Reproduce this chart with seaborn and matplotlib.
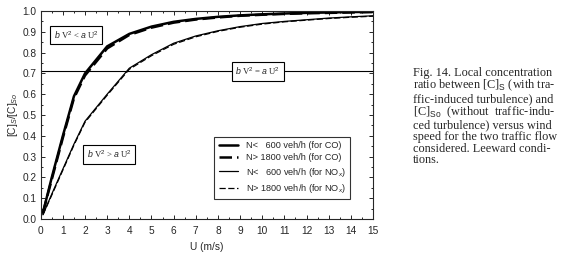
import matplotlib
matplotlib.use("Agg")
import matplotlib.pyplot as plt
from matplotlib.ticker import MultipleLocator
import seaborn as sns

# wind speed (m/s) and concentration ratio
u = [0.1, 0.5, 1, 1.5, 2, 3, 4, 5, 6, 7, 8, 9, 10, 11, 12, 13, 14, 15]
co_low = [0.03, 0.20, 0.40, 0.59, 0.70, 0.83, 0.89, 0.925, 0.948, 0.962, 0.972, 0.979, 0.984, 0.988, 0.991, 0.993, 0.995, 0.996]
co_high = [0.03, 0.19, 0.39, 0.58, 0.69, 0.82, 0.885, 0.92, 0.944, 0.959, 0.969, 0.977, 0.982, 0.986, 0.989, 0.991, 0.993, 0.995]
nox_low = [0.02, 0.12, 0.24, 0.36, 0.47, 0.60, 0.725, 0.79, 0.845, 0.88, 0.905, 0.925, 0.94, 0.95, 0.958, 0.966, 0.972, 0.977]
nox_high = [0.02, 0.115, 0.235, 0.355, 0.465, 0.595, 0.72, 0.785, 0.84, 0.876, 0.902, 0.922, 0.937, 0.948, 0.956, 0.964, 0.97, 0.975]
threshold = 0.71

legend_labels = [
    "N<   600 veh/h (for CO)",
    "N> 1800 veh/h (for CO)",
    "N<   600 veh/h (for NO$_x$)",
    "N> 1800 veh/h (for NO$_x$)",
]

caption = [
    "Fig. 14. Local concentration",
    "ratio between [C]$_\\mathrm{S}$ (with tra-",
    "ffic-induced turbulence) and",
    "[C]$_\\mathrm{So}$  (without  traffic-indu-",
    "ced turbulence) versus wind",
    "speed for the two traffic flow",
    "considered. Leeward condi-",
    "tions.",
]

sns.set_theme(style="ticks")
plt.rcParams['font.family'] = ['Liberation Sans', 'DejaVu Sans']
plt.rcParams['mathtext.fontset'] = 'custom'
plt.rcParams['mathtext.rm'] = 'Liberation Sans'
plt.rcParams['mathtext.it'] = 'Liberation Sans:italic'

fig = plt.figure(figsize=(5.7, 2.56), dpi=100)
ax = fig.add_axes([0.0714, 0.1445, 0.583, 0.8125])

series = [
    (co_low, "-", 1.8),
    (co_high, (0, (5, 2)), 1.8),
    (nox_low, "-", 0.9),
    (nox_high, (0, (5, 2)), 0.9),
]
for (vals, ls, lw), lab in zip(series, legend_labels):
    sns.lineplot(x=u, y=vals, ax=ax, color="black", linewidth=lw, linestyle=ls, label=lab)

ax.axhline(threshold, color="black", linewidth=0.8)

ax.set_xlim(0, 15)
ax.set_ylim(0, 1.0)
ax.xaxis.set_major_locator(MultipleLocator(1))
ax.xaxis.set_minor_locator(MultipleLocator(0.5))
ax.yaxis.set_major_locator(MultipleLocator(0.1))
ax.yaxis.set_minor_locator(MultipleLocator(0.05))
ax.tick_params(which="both", direction="in", top=True, right=True, labelsize=7.3, width=0.7)
ax.tick_params(axis="x", pad=5)
ax.tick_params(axis="y", pad=3)
ax.tick_params(which="major", length=3)
ax.tick_params(which="minor", length=1.5)
for s in ax.spines.values():
    s.set_linewidth(0.8)
ax.set_yticks([i / 10 for i in range(11)])
ax.set_yticklabels(["%.1f" % (i / 10) for i in range(11)])

ax.set_xlabel("U (m/s)", fontsize=7.3, labelpad=4)
ax.set_ylabel("[C]$_S$/[C]$_{So}$", fontsize=7.3, labelpad=2)

box = dict(boxstyle="square,pad=0.4", facecolor="white", edgecolor="black", linewidth=0.8)
serif = ['Liberation Serif', 'DejaVu Serif']
ax.text(1.6, 0.885, "$b$ V$^2$ < $a$ U$^2$", fontsize=6.3, ha="center", va="center", bbox=box, family=serif)
ax.text(9.8, 0.71, "$b$ V$^2$ = $a$ U$^2$", fontsize=6.3, ha="center", va="center", bbox=box, family=serif)
ax.text(3.1, 0.31, "$b$ V$^2$ > $a$ U$^2$", fontsize=6.3, ha="center", va="center", bbox=box, family=serif)

leg = ax.legend(loc="lower right", bbox_to_anchor=(0.945, 0.072), fontsize=6.6, frameon=True,
                fancybox=False, edgecolor="black", handlelength=2.1, labelspacing=0.35,
                borderpad=0.5)
leg.get_frame().set_linewidth(0.8)

fig.text(0.724, 0.74, "\n".join(caption), fontsize=8.8, family=serif, ha="left", va="top",
         linespacing=0.95)

fig.savefig("out.png", dpi=100)
